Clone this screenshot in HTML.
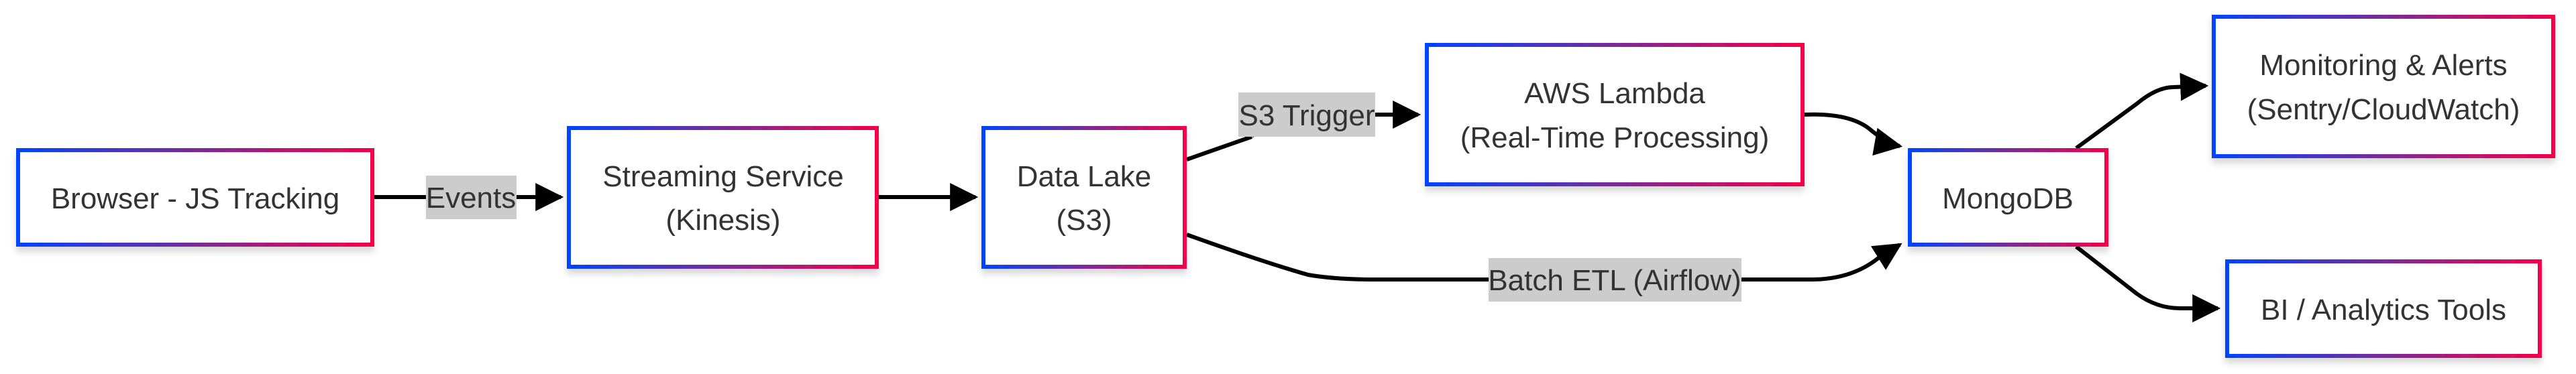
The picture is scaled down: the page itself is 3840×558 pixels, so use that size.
<!DOCTYPE html>
<html><head><meta charset="utf-8"><style>
html,body{margin:0;padding:0;background:#fff;width:3840px;height:558px;overflow:hidden}
svg text{font-family:"Liberation Sans",Arial,sans-serif;font-size:44px;fill:#333}
</style></head><body>
<svg width="3840" height="558" viewBox="0 0 3840 558" xmlns="http://www.w3.org/2000/svg">
<defs>
<linearGradient id="g" x1="0" y1="0" x2="1" y2="0"><stop offset="0" stop-color="#0044ff"/><stop offset="0.5" stop-color="#7a2a9a"/><stop offset="1" stop-color="#f5004a"/></linearGradient>
<marker id="a" viewBox="0 0 10 10" refX="9" refY="5" markerWidth="7" markerHeight="7" orient="auto"><path d="M0,0 L10,5 L0,10 z" fill="#000"/></marker>
<filter id="sh" x="-5%" y="-5%" width="110%" height="125%"><feDropShadow dx="0" dy="8" stdDeviation="5" flood-color="#000" flood-opacity="0.15"/></filter>
</defs>
<g fill="none" stroke="#000" stroke-width="6" marker-end="url(#a)">
<path d="M558,294 L836,294"/>
<path d="M1310,294 L1454,294"/>
<path d="M1769,238 L1866,204 M1866,204 Q1880,171 1960,171 L2114,171" />
<path d="M2690,171 Q2760,168 2790,195 Q2815,215 2832,218"/>
<path d="M1769,350 Q1880,390 1950,410 Q1990,417 2050,417 L2700,417 Q2760,417 2800,385 L2832,365"/>
<path d="M3095,221 L3185,155 Q3215,130 3240,130 L3288,128"/>
<path d="M3095,368 L3185,438 Q3215,460 3250,460 L3306,460"/>
</g>
<g><rect x="635" y="262" width="135" height="65" fill="#ccc"/><text x="702" y="310" text-anchor="middle">Events</text></g>
<g><rect x="1846" y="138" width="204" height="66" fill="#ccc"/><text x="1948" y="187" text-anchor="middle">S3 Trigger</text></g>
<g><rect x="2219" y="385" width="377" height="65" fill="#ccc"/><text x="2407" y="433" text-anchor="middle">Batch ETL (Airflow)</text></g>
<g stroke="url(#g)" stroke-width="6" fill="#fff" filter="url(#sh)">
<rect x="27" y="224" width="528" height="141"/>
<rect x="848" y="191" width="459" height="207"/>
<rect x="1466" y="191" width="300" height="207"/>
<rect x="2127" y="67" width="560" height="208"/>
<rect x="2847" y="224" width="293" height="141"/>
<rect x="3300" y="25" width="506" height="208"/>
<rect x="3320" y="390" width="466" height="141"/>
</g>
<text x="291" y="311" text-anchor="middle">Browser - JS Tracking</text>
<text x="1078" y="278" text-anchor="middle">Streaming Service</text>
<text x="1078" y="343" text-anchor="middle">(Kinesis)</text>
<text x="1616" y="278" text-anchor="middle">Data Lake</text>
<text x="1616" y="343" text-anchor="middle">(S3)</text>
<text x="2407" y="154" text-anchor="middle">AWS Lambda</text>
<text x="2407" y="220" text-anchor="middle">(Real-Time Processing)</text>
<text x="2993" y="311" text-anchor="middle">MongoDB</text>
<text x="3553" y="112" text-anchor="middle">Monitoring &amp; Alerts</text>
<text x="3553" y="178" text-anchor="middle">(Sentry/CloudWatch)</text>
<text x="3553" y="477" text-anchor="middle">BI / Analytics Tools</text>
</svg>
</body></html>
